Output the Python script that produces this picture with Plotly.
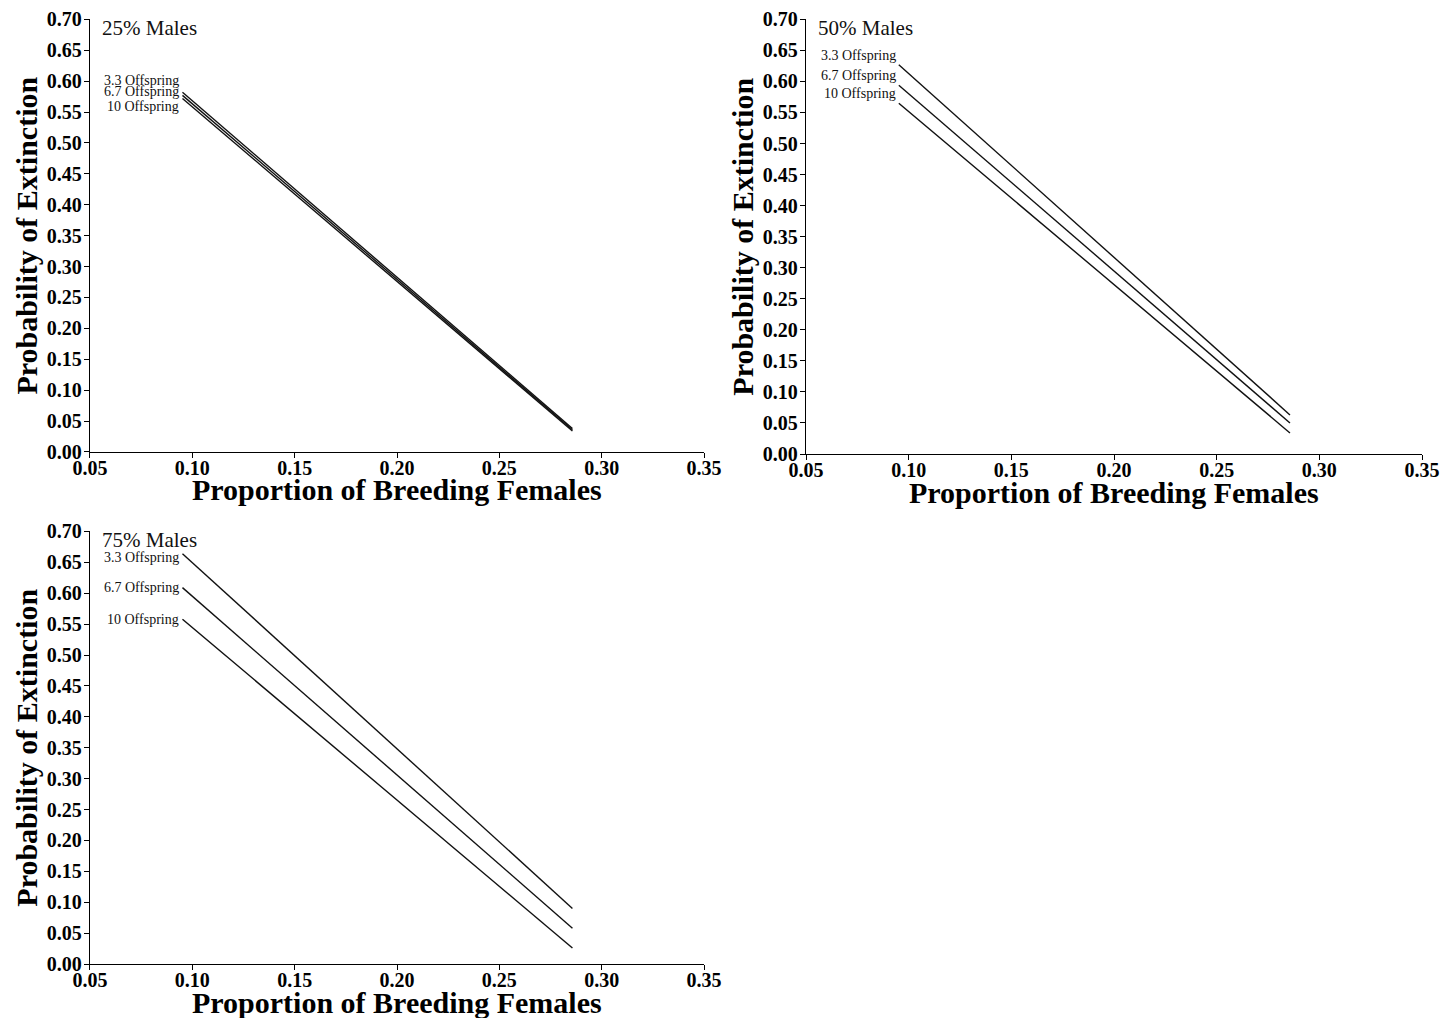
import plotly.graph_objects as go

# Data
x_props = [0.0952, 0.2857]
offspring_labels = ["3.3 Offspring", "6.7 Offspring", "10 Offspring"]
panel_titles = ["25% Males", "50% Males", "75% Males"]

males25_start = [0.582, 0.577, 0.572]
males25_end = [0.038, 0.036, 0.034]
males50_start = [0.627, 0.594, 0.565]
males50_end = [0.063, 0.050, 0.034]
males75_start = [0.664, 0.609, 0.558]
males75_end = [0.090, 0.058, 0.026]

y_ticks = [round(0.05 * i, 2) for i in range(15)]
x_ticks = [0.05, 0.10, 0.15, 0.20, 0.25, 0.30, 0.35]

x_title = "Proportion of Breeding Females"
y_title = "Probability of Extinction"

panels = [
    (males25_start, males25_end, "x", "y", [12, 4, -8]),
    (males50_start, males50_end, "x2", "y2", [9, 10, 10]),
    (males75_start, males75_end, "x3", "y3", [-4, 0, 0]),
]

titlefont = dict(family="Liberation Serif", size=30, color="black")
tickfont = dict(family="Liberation Serif", size=20, color="black")

fig = go.Figure()
annotations = []
for (starts, ends, xa, ya, shifts), title in zip(panels, panel_titles):
    for s, e, lab, sh in zip(starts, ends, offspring_labels, shifts):
        fig.add_trace(go.Scatter(x=x_props, y=[s, e], mode="lines",
                                 line=dict(color="#111111", width=1.4),
                                 xaxis=xa, yaxis=ya, showlegend=False, hoverinfo="skip"))
        annotations.append(dict(x=x_props[0], y=s, xref=xa, yref=ya, text=lab,
                                showarrow=False, xanchor="right", yanchor="middle",
                                yshift=sh, xshift=-1,
                                font=dict(family="Liberation Serif", size=14, color="#111111")))
    annotations.append(dict(x=0.052, y=0.70, xref=xa, yref=ya, text=title, showarrow=False,
                            xanchor="left", yanchor="middle", xshift=6, yshift=-9,
                            font=dict(family="Liberation Serif", size=21, color="#111111")))
    # axis titles
    annotations.append(dict(x=0.5, y=0, xref=f"{xa} domain", yref=f"{ya} domain",
                            text=f"<b>{x_title}</b>", showarrow=False,
                            xanchor="center", yanchor="middle", yshift=-38, font=titlefont))
    annotations.append(dict(x=0, y=0.5, xref=f"{xa} domain", yref=f"{ya} domain",
                            text=f"<b>{y_title}</b>", showarrow=False, textangle=-90,
                            xanchor="center", yanchor="middle", xshift=-63, font=titlefont))


def xax(domain, anchor):
    return dict(domain=domain, anchor=anchor, range=[0.05, 0.35], tickvals=x_ticks,
                ticktext=[f"<b>{v:.2f}</b>" for v in x_ticks],
                showline=True, linecolor="black", linewidth=1.3, ticks="outside",
                ticklen=5, tickcolor="black", showgrid=False, zeroline=False,
                tickfont=tickfont, automargin=False, ticklabelstandoff=-7)

def yax(domain, anchor):
    return dict(domain=domain, anchor=anchor, range=[0, 0.70], tickvals=y_ticks,
                ticktext=[f"<b>{v:.2f}</b>" for v in y_ticks],
                showline=True, linecolor="black", linewidth=1.3, ticks="outside",
                ticklen=5, tickcolor="black", showgrid=False, zeroline=False,
                tickfont=tickfont, automargin=False, ticklabelstandoff=-2)

fig.update_layout(
    width=1446, height=1018,
    margin=dict(l=0, r=0, t=0, b=0, autoexpand=False),
    paper_bgcolor="white", plot_bgcolor="white",
    xaxis=xax([0.0622, 0.4869], "y"),
    yaxis=yax([0.556, 0.981], "x"),
    xaxis2=xax([0.5574, 0.9834], "y2"),
    yaxis2=yax([0.554, 0.981], "x2"),
    xaxis3=xax([0.0622, 0.4869], "y3"),
    yaxis3=yax([0.053, 0.478], "x3"),
    annotations=annotations,
)

fig.write_html("out.html", config={"displayModeBar": False},
               post_script="document.body.style.margin='0';document.body.style.overflow='hidden';")
